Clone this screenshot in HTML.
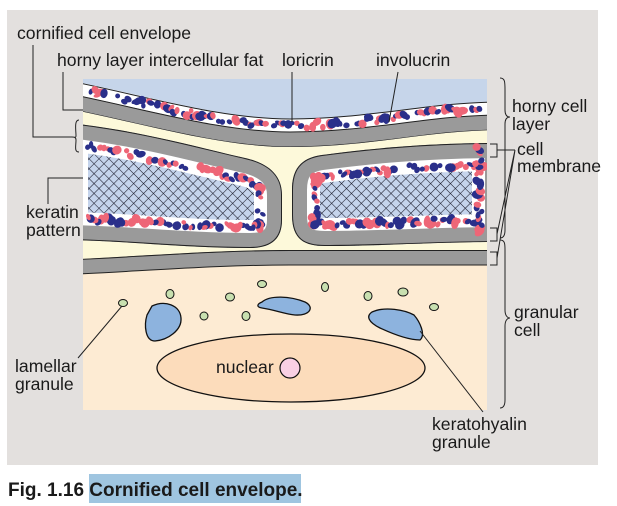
<!DOCTYPE html>
<html><head><meta charset="utf-8"><style>
html,body{margin:0;padding:0;background:#fff;}
body{width:617px;height:506px;overflow:hidden;position:relative;font-family:"Liberation Sans",sans-serif;}
</style></head><body>
<svg id="s" width="617" height="506" viewBox="0 0 617 506" xmlns="http://www.w3.org/2000/svg" style="position:absolute;left:0;top:0">
<defs>
<pattern id="hatch" width="7" height="7" patternUnits="userSpaceOnUse" patternTransform="rotate(45)">
<rect width="7" height="7" fill="#c5d4ec"/>
<line x1="0" y1="0" x2="0" y2="7" stroke="#1a1a2a" stroke-width="1.1"/>
<line x1="0" y1="0" x2="7" y2="0" stroke="#1a1a2a" stroke-width="1.1"/>
</pattern>
<clipPath id="box"><rect x="83" y="79" width="404" height="331"/></clipPath>
<clipPath id="cl"><path id="P" d="M60,122 C140,130 200,148 245,158 C272,164 282,178 282,195 L282,220 C282,240 270,248 250,248 C180,248 120,240 60,240 Z"/></clipPath>
<clipPath id="cr"><path id="Q" d="M500,143 C420,143 360,150 322,155 C300,158 292,170 292,190 L292,215 C292,240 305,246 325,246 C380,246 440,242 500,242 Z"/></clipPath>
<clipPath id="ctop"><path d="M60,107 C150,125 220,147 290,147 C370,147 430,130 500,130 L500,60 L60,60 Z"/></clipPath>
<clipPath id="cbot"><path d="M60,260 C160,255 220,250 290,250 C360,250 420,250 500,250 L500,420 L60,420 Z"/></clipPath>
</defs>
<rect x="7" y="10" width="591" height="455" fill="#e3e0de"/>
<g clip-path="url(#box)">
<rect x="83" y="79" width="404" height="331" fill="#fdf9da"/>
<g clip-path="url(#ctop)">
<rect x="60" y="60" width="440" height="100" fill="#c6d5ea"/>
<path id="L" d="M60,107 C150,125 220,147 290,147 C370,147 430,130 500,130" fill="none" stroke="#fff" stroke-width="56"/>
<path d="M60,107 C150,125 220,147 290,147 C370,147 430,130 500,130" fill="none" stroke="#9a9a9a" stroke-width="30"/>
<path d="M60,107 C150,125 220,147 290,147 C370,147 430,130 500,130" fill="none" stroke="#222" stroke-width="1"/>
<path d="M60,107 C150,125 220,147 290,147 C370,147 430,130 500,130" fill="none" stroke="#222" stroke-width="1" transform="translate(0,-15)"/>
<path d="M60,107 C150,125 220,147 290,147 C370,147 430,130 500,130" fill="none" stroke="#222" stroke-width="1" transform="translate(0,-28)"/>
<g id="dtop"></g>
</g>
<g clip-path="url(#cl)">
<rect x="60" y="100" width="240" height="160" fill="url(#hatch)"/>
<use href="#P" fill="none" stroke="#fff" stroke-width="56"/>
<use href="#P" fill="none" stroke="#9a9a9a" stroke-width="30"/>
<use href="#P" fill="none" stroke="#222" stroke-width="2"/>
<g id="dl"></g>
</g>
<g clip-path="url(#cr)">
<rect x="280" y="130" width="240" height="130" fill="url(#hatch)"/>
<use href="#Q" fill="none" stroke="#fff" stroke-width="56"/>
<use href="#Q" fill="none" stroke="#9a9a9a" stroke-width="30"/>
<use href="#Q" fill="none" stroke="#222" stroke-width="2"/>
<g id="dr"></g>
</g>
<g clip-path="url(#cbot)">
<rect x="60" y="240" width="440" height="180" fill="#fdebd3"/>
<path d="M60,260 C160,255 220,250 290,250 C360,250 420,250 500,250" fill="none" stroke="#9a9a9a" stroke-width="30"/>
<path d="M60,260 C160,255 220,250 290,250 C360,250 420,250 500,250" fill="none" stroke="#222" stroke-width="2"/>
<path d="M60,275 C160,270 220,265 290,265 C360,265 420,265 500,265" fill="none" stroke="#222" stroke-width="1"/>
</g>
</g>
<ellipse cx="291" cy="368" rx="134" ry="34" fill="#fcdcbb" stroke="#111" stroke-width="1.3"/>
<circle cx="290" cy="368" r="10" fill="#f9d0e4" stroke="#111" stroke-width="1.2"/>
<path d="M152,306 C165,300 180,305 181,318 C182,330 168,340 155,341 C145,341 144,325 147,315 Z" fill="#8db3de" stroke="#111" stroke-width="1.3"/>
<path d="M262,302 C270,295 290,296 305,302 C315,307 310,316 295,315 C285,314 275,310 262,308 C256,307 257,304 262,302 Z" fill="#8db3de" stroke="#111" stroke-width="1.3"/>
<path d="M372,312 C385,306 405,310 414,315 C420,322 426,335 420,340 C410,340 395,335 380,328 C368,322 366,316 372,312 Z" fill="#8db3de" stroke="#111" stroke-width="1.3"/>
<g fill="#c8e0b0" stroke="#111" stroke-width="1">
<ellipse cx="123" cy="303" rx="4.5" ry="3.5"/><ellipse cx="170" cy="294" rx="4" ry="4.5"/>
<ellipse cx="230" cy="297" rx="4.5" ry="4"/><ellipse cx="204" cy="316" rx="4" ry="4"/>
<ellipse cx="246" cy="316" rx="4" ry="4.5"/><ellipse cx="262" cy="284" rx="4.5" ry="3.5"/>
<ellipse cx="325" cy="287" rx="3.5" ry="4.5"/><ellipse cx="368" cy="296" rx="4" ry="4.5"/>
<ellipse cx="403" cy="292" rx="5" ry="4"/><ellipse cx="434" cy="307" rx="4.5" ry="3.5"/>
</g>
<g fill="none" stroke="#222" stroke-width="1">
<path d="M33,45 V137 H72"/>
<path d="M79,120 C74,120 76,130 76,136 C76,138 74,137 72,137 C74,137 76,137 76,140 C76,146 74,152 79,152"/>
<path d="M63,72 V110 H83"/>
<path d="M292,72 V122"/>
<path d="M398,72 L389,122"/>
<path d="M48,204 V178 H83"/>
<path d="M78,358 L122,306"/>
<path d="M483,412 L420,331"/>
<path d="M500,78 C505,78 505,82 505,90 V110 C505,115 507,117 510,117 C507,117 505,119 505,124 V230 C505,236 503,238 500,238"/>
<path d="M500,240 C505,240 505,244 505,250 V310 C505,315 507,318 510,318 C507,318 505,321 505,326 V400 C505,406 503,408 500,408"/>
<path d="M490,144 H497 V157 H490"/>
<path d="M490,228 H497 V241 H490"/>
<path d="M490,252 H497 V265 H490"/>
<path d="M497,150 H515 M515,150 L497,234 M515,150 L497,258"/>
</g>
<g font-size="17.6" fill="#1a1a1a" font-family="Liberation Sans, sans-serif">
<text x="17" y="39">cornified cell envelope</text>
<text x="57" y="66">horny layer intercellular fat</text>
<text x="282" y="66">loricrin</text>
<text x="376" y="66">involucrin</text>
<text x="512" y="112">horny cell</text>
<text x="512" y="130">layer</text>
<text x="517" y="155">cell</text>
<text x="517" y="172">membrane</text>
<text x="26" y="218">keratin</text>
<text x="26" y="236">pattern</text>
<text x="514" y="318">granular</text>
<text x="514" y="336">cell</text>
<text x="15" y="372">lamellar</text>
<text x="15" y="390">granule</text>
<text x="216" y="373">nuclear</text>
<text x="432" y="430">keratohyalin</text>
<text x="432" y="448">granule</text>
</g>
<rect x="89" y="474" width="212" height="29" fill="#9fc5e0"/>
<text x="8" y="496" font-size="19" font-weight="bold" fill="#1a1a1a" font-family="Liberation Sans, sans-serif">Fig. 1.16 Cornified cell envelope.</text>
</svg>
<script>
(function(){
var NS="http://www.w3.org/2000/svg";
var seed=7;function r(){seed=(seed*16807)%2147483647;return seed/2147483647;}
function dot(g,x,y){var e=document.createElementNS(NS,"ellipse");var big=r()<0.4;
var a=big?4+r()*2:2.4+r()*1.6,b=big?3.2+r()*1.5:2+r()*1.4;e.setAttribute("cx",x);e.setAttribute("cy",y);
e.setAttribute("rx",a);e.setAttribute("ry",b);e.setAttribute("transform","rotate("+(r()*180)+" "+x+" "+y+")");
e.setAttribute("fill",r()<0.5?"#ee6677":"#2a2f8a");g.appendChild(e);}
function place(path,g,off,insideTest){var len=path.getTotalLength();
for(var s=0;s<len;s+=3.4){var p=path.getPointAtLength(s),q=path.getPointAtLength(Math.min(len,s+1)),p0=path.getPointAtLength(Math.max(0,s-1));
var dx=q.x-p0.x,dy=q.y-p0.y,m=Math.hypot(dx,dy)||1;var nx=-dy/m,ny=dx/m;
var o=off+(r()-0.5)*6;var x=p.x+nx*o,y=p.y+ny*o;
if(!insideTest(x,y)){x=p.x-nx*o;y=p.y-ny*o;}
if(x<85||x>486)continue;if(r()<0.25)continue;dot(g,x+(r()-0.5)*2,y);}}
try{
var P=document.getElementById("P"),Q=document.getElementById("Q"),L=document.getElementById("L");
var sv=document.getElementById("s");
function inF(el){return function(x,y){var pt=sv.createSVGPoint();pt.x=x;pt.y=y;return el.isPointInFill(pt);};}
place(P,document.getElementById("dl"),21.5,inF(P));
place(Q,document.getElementById("dr"),21.5,inF(Q));
place(L,document.getElementById("dtop"),21.5,function(x,y){return false;});
}catch(e){}
})();
</script>
</body></html>
